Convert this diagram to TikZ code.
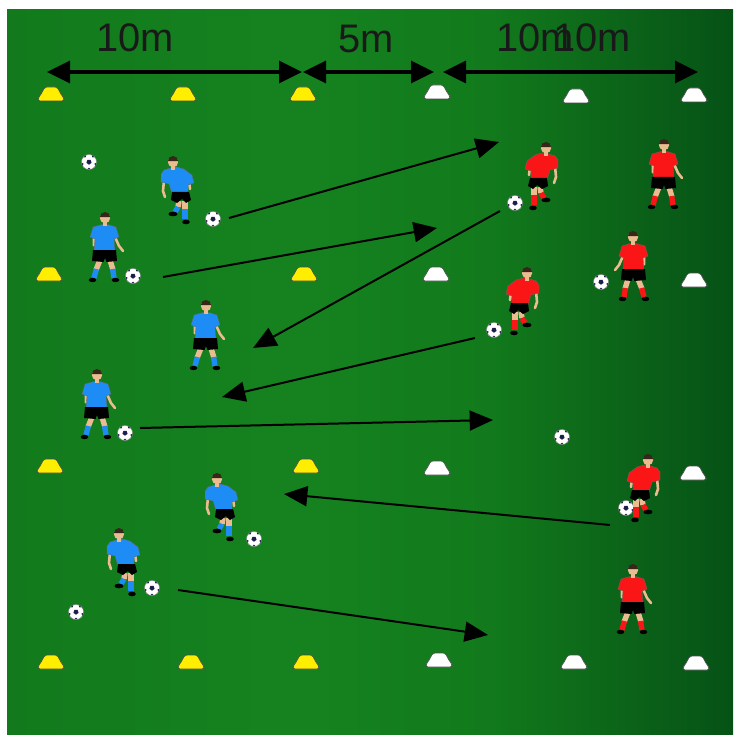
\documentclass[tikz,border=0pt]{standalone}
\usepackage{fontspec}
\setmainfont{Liberation Sans}
\usetikzlibrary{arrows.meta}

\definecolor{grassL}{RGB}{18,122,28}
\definecolor{grassM}{RGB}{21,130,31}
\definecolor{grassR}{RGB}{6,82,22}
\definecolor{coneY}{RGB}{255,238,0}
\definecolor{bluekit}{RGB}{30,140,245}
\definecolor{redkit}{RGB}{250,22,22}
\definecolor{skin}{RGB}{236,188,145}
\definecolor{hair}{RGB}{55,38,25}
\definecolor{balldark}{RGB}{30,30,75}

\pgfdeclarehorizontalshading{grass}{100bp}{color(0bp)=(grassL); color(25bp)=(grassL); color(45bp)=(grassM); color(58bp)=(grassL); color(75bp)=(grassR); color(100bp)=(grassR)}

\tikzstyle{dim}=[line width=3pt, {Triangle[length=6.9mm,width=6.6mm]}-{Triangle[length=6.9mm,width=6.6mm]}]
\tikzstyle{pass}=[line width=1.7pt, -{Triangle[length=7mm,width=6mm]}]
\tikzstyle{cone}=[draw=black!70, line width=.5pt, rounded corners=1.5pt]
\tikzstyle{lbl}=[font=\fontsize{34}{36}\selectfont, anchor=base, inner sep=0pt, text=black!90]
\tikzstyle{limb}=[line width=2.2pt, line cap=round]
\tikzstyle{leg}=[line width=4.6pt]

% marker cone, centre (#1,#2), fill #3
\newcommand{\cone}[3]{%
  \filldraw[cone, fill=#3, shift={(#1,#2)}] (-6,-8) -- (6,-8) -- (11,1) -- (13,3) -- (13,6) -- (-13,6) -- (-13,3) -- (-11,1) -- cycle;
}
% football at (#1,#2)
\newcommand{\ball}[2]{%
  \begin{scope}[shift={(#1,#2)}]
    \filldraw[fill=white, draw=black!45, line width=.4pt] (0,0) circle (7.5);
    \fill[balldark] (90:2.7) -- (162:2.7) -- (234:2.7) -- (306:2.7) -- (18:2.7) -- cycle;
    \foreach \a in {90,162,234,306,378}
      \fill[balldark] ({\a-13}:7.4) arc ({\a-13}:{\a+13}:7.4) -- (\a:5.7) -- cycle;
  \end{scope}
}
% head with hair, centre at origin
\newcommand{\head}{%
  \fill[skin] (-1.8,3) rectangle (1.8,8);
  \fill[skin] (0,0) circle (5.2);
  \fill[hair] (-5.2,-0.8) arc (180:360:5.2) -- cycle;
}
% standing player: head (#1,#2), kit #3, facing #4 (1 right, -1 left)
\newcommand{\stander}[4]{%
  \begin{scope}[shift={(#1,#2)}, xscale=#4]
    \draw[skin, leg] (-5,42) -- (-9,52);
    \draw[skin, leg] (5,42) -- (8,52);
    \draw[#3, leg] (-8.6,51) -- (-11,60);
    \draw[#3, leg] (7.6,51) -- (9,60);
    \fill[black] (-12.5,62) ellipse (3.8 and 2.2);
    \fill[black] (10.5,62) ellipse (3.8 and 2.2);
    \draw[skin, limb] (-11,19) -- (-11,27) -- (-6,31);
    \draw[skin, limb] (10,19) -- (14,28) -- (18,33);
    \filldraw[#3, draw=black!60, line width=.3pt] (-12,9) -- (-3,6.5) -- (3,6.5) -- (11,9) -- (14,19) -- (9,21) -- (10,33) -- (-11,33) -- (-10,21) -- (-15,19) -- cycle;
    \fill[black] (-12,32) -- (11,32) -- (12,43) -- (1.5,44) -- (0,40) -- (-1.5,44) -- (-13,43) -- cycle;
    \head
  \end{scope}
}
% running player: head (#1,#2), kit #3, facing #4
\newcommand{\runner}[4]{%
  \begin{scope}[shift={(#1,#2)}, xscale=#4]
    \draw[skin, leg] (6,39) -- (5,45);
    \draw[#3, leg] (5,45) -- (2,50);
    \fill[black] (0,52) ellipse (4.6 and 2.3);
    \draw[skin, leg] (12,39) -- (12,47);
    \draw[#3, leg] (12,47) -- (12,57);
    \fill[black] (13,60) ellipse (3.8 and 2.3);
    \draw[skin, limb] (-9,18) -- (-10,29) -- (-8,35);
    \draw[skin, limb] (16,19) -- (17,27);
    \filldraw[#3, draw=black!60, line width=.3pt] (-9,8) -- (2,4.5) -- (11,7) -- (19,13) -- (21,21) -- (15,23) -- (15,31) -- (-1,32) -- (-4,22) -- (-12,20) -- (-12,12) -- cycle;
    \fill[black] (-1,30) -- (16,30) -- (18,38) -- (13,41) -- (9,37) -- (4,41) -- (-2,38) -- cycle;
    \head
  \end{scope}
}

\begin{document}
\begin{tikzpicture}[x=0.03cm, y=-0.03cm]
\fill[white] (0,0) rectangle (733,735);
\useasboundingbox (0,0) rectangle (733,735);
\shade[shading=grass] (7,10) rectangle (733,735);

% cones
\foreach \x/\y/\c in {51/95/coneY, 183/95/coneY, 303/95/coneY, 437/93/white, 576/97/white, 694/96/white,
  49/275/coneY, 304/275/coneY, 436/275/white, 694/281/white,
  50/467/coneY, 306/467/coneY, 437/469/white, 693/474/white,
  51/663/coneY, 191/663/coneY, 306/663/coneY, 439/661/white, 574/663/white, 696/664/white}
  \cone{\x}{\y}{\c};

% distances
\coordinate (d0) at (47,72);
\coordinate (d1) at (302,72);
\coordinate (d2) at (303,72);
\coordinate (d3) at (434,72);
\coordinate (d4) at (443,72);
\coordinate (d5) at (698,72);
\draw[dim] (d0) -- (d1);
\draw[dim] (d2) -- (d3);
\draw[dim] (d4) -- (d5);
\node[lbl] (w1) at (135,52) {10m};
\node[lbl] (w2) at (366,53) {5m};
\node[lbl] (w3) at (535,52) {10m};
\node[lbl] (w4) at (592,52) {10m};

% balls
\foreach \x/\y in {89/162, 213/219, 133/276, 125/433, 254/539, 152/588, 76/612,
  515/203, 601/282, 494/330, 562/437, 626/508}
  \ball{\x}{\y};

% players
\runner{173}{162}{bluekit}{1}
\stander{105}{218}{bluekit}{1}
\stander{206}{306}{bluekit}{1}
\stander{97}{375}{bluekit}{1}
\runner{217}{479}{bluekit}{1}
\runner{119}{534}{bluekit}{1}
\runner{546}{148}{redkit}{-1}
\stander{664}{145}{redkit}{1}
\stander{633}{237}{redkit}{-1}
\runner{527}{273}{redkit}{-1}
\runner{648}{460}{redkit}{-1}
\stander{633}{570}{redkit}{1}

% passes
\coordinate (p1) at (229,218);
\coordinate (q1) at (499,142);
\coordinate (p2) at (163,277);
\coordinate (q2) at (437,228);
\coordinate (p3) at (500,211);
\coordinate (q3) at (253,348);
\coordinate (p4) at (475,338);
\coordinate (q4) at (222,397);
\coordinate (p5) at (140,428);
\coordinate (q5) at (493,420);
\coordinate (p6) at (610,525);
\coordinate (q6) at (284,494);
\coordinate (p7) at (178,590);
\coordinate (q7) at (488,635);
\foreach \i in {1,...,7}
  \draw[pass] (p\i) -- (q\i);
\end{tikzpicture}
\end{document}
